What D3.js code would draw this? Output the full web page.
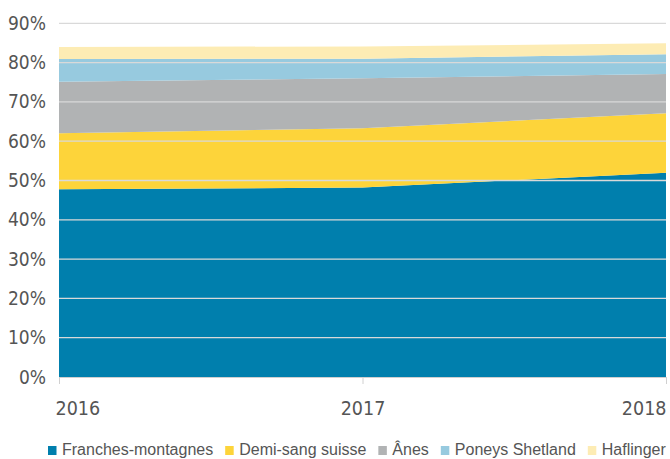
<!DOCTYPE html>
<html>
<head>
<meta charset="utf-8">
<script src="https://cdn.jsdelivr.net/npm/d3@7"></script>
<style>
  body { margin: 0; background: #fff; }
  svg { display: block; }
</style>
</head>
<body>
<div class="myChart"></div>
<script>
//Data
var years = [2016, 2017, 2018];
var seriesNames = ["Franches-montagnes", "Demi-sang suisse", "Ânes", "Poneys Shetland", "Haflinger"];
var franches = [47.8, 48.2, 52.0];
var demiSang = [14.2, 15.1, 15.1];
var anes = [13.1, 12.7, 10.0];
var poneys = [5.8, 5.0, 5.0];
var haflinger = [3.1, 3.1, 2.8];
var yTicks = [0, 10, 20, 30, 40, 50, 60, 70, 80, 90];
var colors = ["#007fad", "#fdd43a", "#b1b3b4", "#97cadf", "#fdecb4"];

function run () {
    //Canvas Size
    var width = 670;
    var height = 459;
    var margin = { top: 23.3, right: 4, bottom: 82, left: 59 };
    var innerBottom = height - margin.bottom;
    var innerRight = width - margin.right;

    //Table for the stack
    var values = [franches, demiSang, anes, poneys, haflinger];
    var table = years.map(function(y, i) {
        var row = { year: y };
        seriesNames.forEach(function(s, k) { row[s] = values[k][i]; });
        return row;
    });
    var stacked = d3.stack().keys(seriesNames)(table);

    //Scales
    var xScale = d3.scaleLinear()
        .domain([years[0], years[years.length - 1]])
        .range([margin.left, innerRight]);
    var yScale = d3.scaleLinear()
        .domain([0, 90])
        .range([innerBottom, margin.top]);

    var svg = d3.select(".myChart").append("svg")
        .attr("width", width)
        .attr("height", height);

    //Areas
    var area = d3.area()
        .x(function(d) { return xScale(d.data.year); })
        .y0(function(d) { return yScale(d[0]); })
        .y1(function(d) { return yScale(d[1]); });

    svg.selectAll("path.layer")
        .data(stacked)
        .enter()
        .append("path")
        .attr("class", "layer")
        .attr("d", area)
        .style("fill", function(d, i) { return colors[i]; });

    //Grid on top
    svg.append("g")
        .selectAll("line")
        .data(yTicks.filter(function(t) { return t > 0; }))
        .enter()
        .append("line")
        .attr("x1", margin.left)
        .attr("x2", innerRight)
        .attr("y1", function(d) { return yScale(d); })
        .attr("y2", function(d) { return yScale(d); })
        .style("stroke", "#d9d9d9")
        .style("stroke-width", 1.3);

    //Axis left
    var vAxis = d3.axisLeft(yScale)
        .tickValues(yTicks)
        .tickSize(0)
        .tickPadding(13)
        .tickFormat(function(d) { return d + "%"; });
    var gy = svg.append("g")
        .attr("transform", "translate(" + margin.left + ",0)")
        .call(vAxis);
    gy.select(".domain").remove();
    gy.selectAll("text")
        .style("font-family", "'Liberation Sans Narrow', 'DejaVu Sans Condensed', sans-serif")
        .style("font-size", "19px")
        .style("fill", "#555");

    //Axis bottom
    var hAxis = d3.axisBottom(xScale)
        .tickValues(years)
        .tickSize(7)
        .tickPadding(17)
        .tickFormat(d3.format("d"));
    var gx = svg.append("g")
        .attr("transform", "translate(0," + innerBottom + ")")
        .call(hAxis);
    gx.select(".domain").style("stroke", "#d0d0d0").attr("d", "M" + margin.left + ",0.5H" + innerRight);
    gx.selectAll(".tick line").style("stroke", "#d0d0d0");
    gx.selectAll("text")
        .style("font-family", "'Liberation Sans Narrow', 'DejaVu Sans Condensed', sans-serif")
        .style("font-size", "19.5px")
        .style("fill", "#555")
        .attr("text-anchor", function(d, i) { return i === 0 ? "start" : (i === years.length - 1 ? "end" : "middle"); })
        .attr("dx", function(d, i) { return i === 0 ? -4 : 0; });

    //Legend
    var legend = svg.append("g").attr("transform", "translate(48,455)");
    var lx = 0;
    seriesNames.forEach(function(name, i) {
        legend.append("rect")
            .attr("x", lx)
            .attr("y", -9)
            .attr("width", 8.5)
            .attr("height", 9)
            .style("fill", colors[i]);
        var t = legend.append("text")
            .attr("x", lx + 14)
            .attr("y", 0)
            .style("font-family", "'Liberation Sans', Arial, sans-serif")
            .style("font-size", "16px")
            .style("fill", "#555")
            .text(name);
        lx += 14 + t.node().getComputedTextLength() + 12;
    });
}

run();
</script>
</body>
</html>
